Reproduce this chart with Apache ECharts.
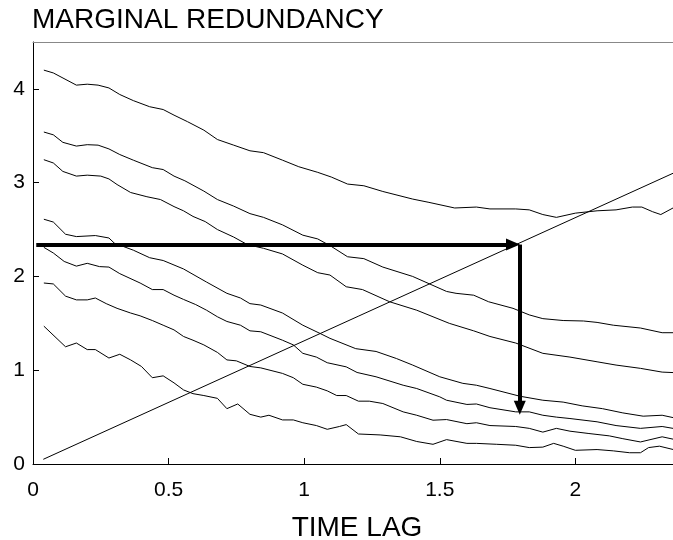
<!DOCTYPE html>
<html>
<head>
<meta charset="utf-8">
<script src="https://cdn.jsdelivr.net/npm/echarts@6/dist/echarts.min.js"></script>
<style>
  html, body { margin: 0; padding: 0; background: #fff; }
  #chart { width: 673px; height: 540px; }
</style>
</head>
<body>
<div id="chart"></div>
<script>
var xTicks = [0, 0.5, 1, 1.5, 2];
var yTicks = [0, 1, 2, 3, 4];

// marginal redundancy curves, [time lag, value]
var curve1 = [[0.04,4.2],[0.075,4.17],[0.16,4.04],[0.2,4.05],[0.24,4.04],[0.28,4.01],[0.32,3.94],[0.37,3.875],[0.43,3.81],[0.48,3.78],[0.52,3.72],[0.57,3.65],[0.63,3.56],[0.68,3.46],[0.74,3.40],[0.80,3.34],[0.85,3.32],[0.92,3.24],[0.98,3.17],[1.05,3.11],[1.1,3.06],[1.16,2.985],[1.22,2.967],[1.29,2.906],[1.4,2.825],[1.46,2.79],[1.555,2.73],[1.635,2.74],[1.685,2.72],[1.78,2.72],[1.83,2.71],[1.88,2.66],[1.93,2.63],[2.0,2.675],[2.08,2.70],[2.15,2.71],[2.21,2.74],[2.245,2.74],[2.285,2.69],[2.315,2.66],[2.36,2.73]];
var curve2 = [[0.04,3.54],[0.075,3.51],[0.11,3.43],[0.16,3.39],[0.2,3.405],[0.24,3.40],[0.28,3.36],[0.32,3.30],[0.37,3.24],[0.44,3.16],[0.48,3.14],[0.52,3.07],[0.56,3.02],[0.63,2.91],[0.68,2.82],[0.74,2.75],[0.80,2.67],[0.85,2.63],[0.92,2.55],[0.995,2.44],[1.05,2.40],[1.1,2.32],[1.16,2.21],[1.22,2.19],[1.29,2.10],[1.4,2.00],[1.525,1.84],[1.56,1.82],[1.625,1.80],[1.68,1.73],[1.77,1.66],[1.83,1.59],[1.88,1.55],[1.955,1.53],[2.03,1.525],[2.08,1.51],[2.14,1.48],[2.24,1.45],[2.32,1.40],[2.36,1.40]];
var curve3 = [[0.04,3.245],[0.075,3.21],[0.11,3.12],[0.16,3.07],[0.2,3.08],[0.25,3.07],[0.28,3.04],[0.31,2.98],[0.36,2.895],[0.42,2.85],[0.47,2.82],[0.52,2.745],[0.555,2.70],[0.59,2.64],[0.635,2.585],[0.68,2.50],[0.74,2.42],[0.79,2.34],[0.85,2.30],[0.92,2.24],[0.995,2.12],[1.05,2.04],[1.095,2.015],[1.155,1.89],[1.215,1.86],[1.315,1.73],[1.415,1.64],[1.535,1.50],[1.625,1.42],[1.685,1.36],[1.78,1.29],[1.88,1.18],[1.98,1.14],[2.08,1.09],[2.15,1.055],[2.24,1.02],[2.32,0.98],[2.36,0.975]];
var curve4 = [[0.04,2.61],[0.075,2.58],[0.12,2.45],[0.16,2.425],[0.23,2.436],[0.28,2.41],[0.30,2.355],[0.37,2.28],[0.43,2.20],[0.48,2.17],[0.555,2.08],[0.64,1.94],[0.715,1.82],[0.765,1.77],[0.80,1.71],[0.84,1.695],[0.92,1.61],[0.995,1.48],[1.06,1.39],[1.095,1.34],[1.19,1.23],[1.265,1.20],[1.34,1.125],[1.4,1.055],[1.5,0.93],[1.585,0.86],[1.635,0.84],[1.685,0.805],[1.795,0.723],[1.88,0.68],[1.955,0.66],[2.025,0.62],[2.1,0.59],[2.175,0.545],[2.25,0.51],[2.32,0.52],[2.36,0.495]];
var curve5 = [[0.04,2.31],[0.075,2.25],[0.115,2.16],[0.16,2.11],[0.2,2.14],[0.245,2.105],[0.28,2.10],[0.32,2.03],[0.395,1.93],[0.44,1.86],[0.48,1.86],[0.52,1.80],[0.555,1.755],[0.60,1.70],[0.64,1.64],[0.68,1.57],[0.715,1.52],[0.765,1.48],[0.80,1.42],[0.84,1.41],[0.92,1.32],[0.96,1.27],[0.995,1.18],[1.045,1.14],[1.085,1.08],[1.155,1.036],[1.195,0.976],[1.265,0.93],[1.365,0.84],[1.415,0.805],[1.5,0.716],[1.525,0.68],[1.6,0.635],[1.635,0.64],[1.685,0.60],[1.78,0.556],[1.83,0.556],[1.88,0.52],[1.93,0.50],[1.98,0.485],[2.08,0.45],[2.15,0.41],[2.24,0.38],[2.32,0.40],[2.36,0.38]];
var curve6 = [[0.04,1.93],[0.075,1.92],[0.12,1.79],[0.16,1.75],[0.2,1.75],[0.23,1.77],[0.27,1.71],[0.31,1.66],[0.36,1.61],[0.395,1.58],[0.44,1.53],[0.48,1.48],[0.52,1.43],[0.555,1.36],[0.59,1.32],[0.63,1.27],[0.68,1.19],[0.715,1.11],[0.75,1.10],[0.80,1.04],[0.84,1.025],[0.92,0.966],[0.96,0.92],[0.995,0.85],[1.045,0.82],[1.085,0.78],[1.12,0.73],[1.155,0.73],[1.2,0.67],[1.24,0.67],[1.29,0.645],[1.365,0.556],[1.415,0.52],[1.475,0.467],[1.525,0.474],[1.6,0.43],[1.635,0.44],[1.685,0.41],[1.78,0.40],[1.83,0.38],[1.88,0.34],[1.93,0.38],[1.98,0.35],[2.05,0.325],[2.125,0.30],[2.175,0.27],[2.24,0.235],[2.32,0.29],[2.36,0.265]];
var curve7 = [[0.04,1.47],[0.12,1.25],[0.16,1.29],[0.2,1.22],[0.23,1.22],[0.28,1.13],[0.32,1.17],[0.36,1.11],[0.40,1.04],[0.44,0.92],[0.48,0.94],[0.52,0.865],[0.555,0.79],[0.59,0.75],[0.63,0.73],[0.68,0.70],[0.715,0.59],[0.755,0.64],[0.80,0.53],[0.84,0.50],[0.87,0.52],[0.92,0.47],[0.96,0.47],[0.995,0.44],[1.045,0.41],[1.085,0.37],[1.13,0.40],[1.155,0.42],[1.2,0.32],[1.28,0.31],[1.355,0.29],[1.415,0.24],[1.475,0.21],[1.525,0.26],[1.6,0.22],[1.635,0.22],[1.71,0.21],[1.78,0.20],[1.83,0.175],[1.88,0.18],[1.92,0.22],[1.955,0.19],[2.0,0.146],[2.08,0.154],[2.14,0.14],[2.2,0.12],[2.24,0.12],[2.27,0.175],[2.31,0.19],[2.36,0.155]];

// straight reference line
var diagonal = [[0.038,0.05],[2.36,3.1]];

// arrows: start -> corner -> end (line ends where the arrowhead starts)
var arrowStart = [0.012, 2.34];
var arrowCorner = [1.795, 2.34];
var arrowHEnd = [1.77, 2.34];
var arrowVEnd = [1.795, 0.6];

var curves = [curve1, curve2, curve3, curve4, curve5, curve6, curve7, diagonal];
var font = 'Liberation Sans, Arial, sans-serif';

var chart = echarts.init(document.getElementById('chart'));

var series = curves.map(function (c) {
    return {
        type: 'line',
        data: c,
        showSymbol: false,
        silent: true,
        lineStyle: { color: '#000', width: 1 }
    };
});

series.push({
    type: 'line',
    data: [],
    markLine: {
        silent: true,
        symbol: ['none', 'triangle'],
        symbolSize: [12, 14],
        label: { show: false },
        lineStyle: { color: '#000', width: 4, type: 'solid' },
        itemStyle: { color: '#000' },
        data: [
            [{ coord: arrowStart }, { coord: arrowHEnd }],
            [{ coord: arrowCorner }, { coord: arrowVEnd }]
        ]
    }
});

chart.setOption({
    animation: false,
    backgroundColor: '#fff',
    title: {
        text: 'MARGINAL REDUNDANCY',
        left: 32,
        top: 6,
        padding: 0,
        textStyle: { fontFamily: font, fontSize: 28, fontWeight: 'normal', color: '#000' }
    },
    grid: { left: 33, right: 0, top: 42, bottom: 76, outerBoundsMode: 'none' },
    xAxis: [{
        type: 'value',
        position: 'bottom',
        min: 0,
        max: 2.36,
        name: 'TIME LAG',
        nameLocation: 'middle',
        nameGap: 50,
        nameTextStyle: { fontFamily: font, fontSize: 28, color: '#000', padding: [0, 0, 0, 8] },
        axisLine: { lineStyle: { color: '#000', width: 1 } },
        axisTick: { inside: true, length: 6, customValues: xTicks, lineStyle: { color: '#000' } },
        axisLabel: { customValues: xTicks, fontFamily: font, fontSize: 21, color: '#000', margin: 16 },
        splitLine: { show: false }
    }, {
        type: 'value',
        position: 'top',
        min: 0,
        max: 2.36,
        axisLine: { show: true, lineStyle: { color: '#888', width: 1 } },
        axisTick: { show: false },
        axisLabel: { show: false },
        splitLine: { show: false }
    }],
    yAxis: {
        type: 'value',
        min: 0,
        max: 4.5,
        axisLine: { show: true, lineStyle: { color: '#000', width: 1 } },
        axisTick: { show: true, inside: true, length: 6, customValues: yTicks, lineStyle: { color: '#000' } },
        axisLabel: { customValues: yTicks, fontFamily: font, fontSize: 21, color: '#000', margin: 8 },
        splitLine: { show: false }
    },
    series: series
});
</script>
</body>
</html>
